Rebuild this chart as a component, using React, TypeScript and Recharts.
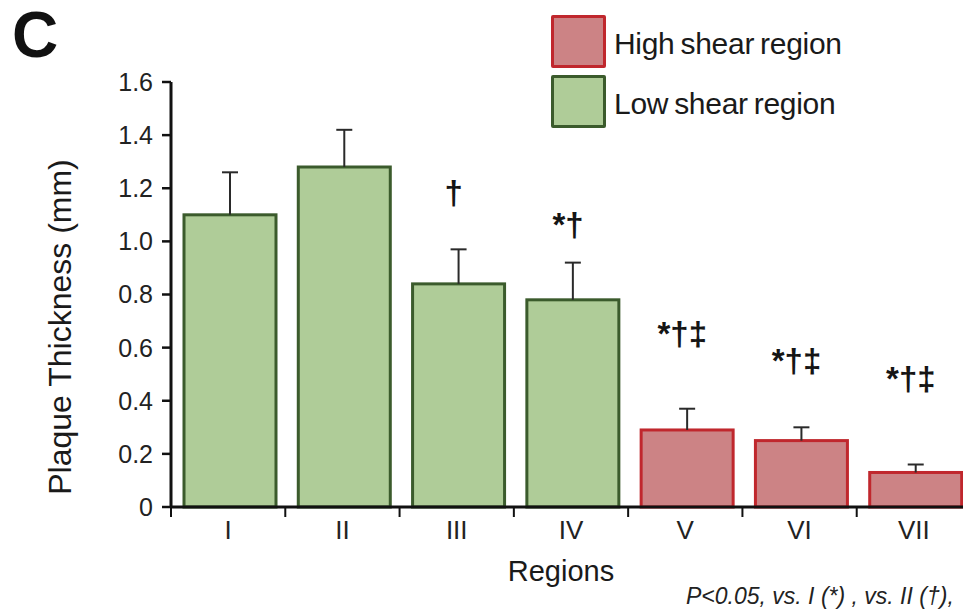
import React from 'react';
import { ComposedChart, Bar, Scatter, XAxis, YAxis, Legend } from 'recharts';

const regions = ['I', 'II', 'III', 'IV', 'V', 'VI', 'VII'];
const thickness = [1.10, 1.28, 0.84, 0.78, 0.29, 0.25, 0.13];
const errorUp = [0.16, 0.14, 0.13, 0.14, 0.08, 0.05, 0.03];
const shearZone = ['low', 'low', 'low', 'low', 'high', 'high', 'high'];
const sigMarks = ['', '', '†', '*†', '*†‡', '*†‡', '*†‡'];
const sigMarkY = [null, null, 1.18, 1.06, 0.65, 0.55, 0.48];
const yTicks = [0, 0.2, 0.4, 0.6, 0.8, 1.0, 1.2, 1.4, 1.6];
const legendItems = [
  { label: 'High shear region', zone: 'high' },
  { label: 'Low shear region', zone: 'low' },
];
const footnote = 'P<0.05, vs. I (*) , vs. II (†),';

const zoneStyle: Record<string, { fill: string; stroke: string }> = {
  low: { fill: '#afcc98', stroke: '#3b5b2c' },
  high: { fill: '#cc8385', stroke: '#c0272d' },
};

const data = regions.map((name, i) => ({
  name,
  value: thickness[i],
  err: errorUp[i],
  zone: shearZone[i],
  sig: sigMarks[i],
  sigY: sigMarkY[i],
}));

const CHART_W = 1000;
const CHART_H = 610;
const MARGIN = { top: 82, right: 29, bottom: 63, left: 111 };
const Y_AXIS_W = 60;
const PLOT_W = CHART_W - MARGIN.left - MARGIN.right - Y_AXIS_W;
const BAND = PLOT_W / regions.length;
const FONT = '"Liberation Sans", Arial, sans-serif';

const BarWithError = (props: any) => {
  const { x, y, width, height, payload } = props;
  if (!payload || !height) return null;
  const st = zoneStyle[payload.zone];
  const perUnit = height / payload.value;
  const errTop = y - payload.err * perUnit;
  const bx = x + 2;
  const cx = bx + width / 2;
  return (
    <g>
      <rect x={bx} y={y} width={width} height={height} fill={st.fill} stroke={st.stroke} strokeWidth={3} />
      <line x1={cx} y1={y} x2={cx} y2={errTop} stroke="#2a2a2a" strokeWidth={2} />
      <line x1={cx - 8} y1={errTop} x2={cx + 8} y2={errTop} stroke="#2a2a2a" strokeWidth={2} />
    </g>
  );
};

const SigMark = (props: any) => {
  const { cx, cy, payload } = props;
  if (!payload || !payload.sig || cx == null || cy == null || isNaN(cy)) return null;
  return (
    <text
      x={cx - 3}
      y={cy}
      dy="0.33em"
      textAnchor="middle"
      fontSize={33}
      fontWeight="bold"
      fill="#151515"
      fontFamily={FONT}
    >
      {payload.sig}
    </text>
  );
};

const XTick = (props: any) => {
  const { x, y, payload } = props;
  const left = x - BAND / 2;
  return (
    <g>
      <line x1={left} y1={y} x2={left} y2={y + 10} stroke="#111" strokeWidth={2} />
      <text x={x} y={y + 32} textAnchor="middle" fontSize={26} fill="#222" fontFamily={FONT}>
        {payload.value}
      </text>
    </g>
  );
};

const LegendContent = () => (
  <div style={{ fontFamily: FONT }}>
    {legendItems.map((item) => (
      <div key={item.label} style={{ display: 'flex', alignItems: 'center', height: 53, marginBottom: 7 }}>
        <div
          style={{
            width: 49,
            height: 47,
            background: zoneStyle[item.zone].fill,
            border: `3px solid ${zoneStyle[item.zone].stroke}`,
            borderRadius: 2,
            flexShrink: 0,
          }}
        />
        <span
          style={{
            marginLeft: 8,
            fontSize: 30,
            color: '#1a1a1a',
            lineHeight: 1,
            marginTop: 5,
            letterSpacing: -0.3,
            wordSpacing: -2,
            whiteSpace: 'nowrap',
          }}
        >
          {item.label}
        </span>
      </div>
    ))}
  </div>
);

export default function App() {
  return (
    <div
      style={{
        position: 'fixed',
        left: 0,
        top: 0,
        width: 963,
        height: 610,
        overflow: 'hidden',
        background: '#fff',
        fontFamily: FONT,
      }}
    >
      <ComposedChart width={CHART_W} height={CHART_H} data={data} margin={MARGIN}>
        <XAxis
          dataKey="name"
          height={40}
          tickSize={0}
          tickMargin={0}
          tickLine={false}
          axisLine={{ stroke: '#111', strokeWidth: 3 }}
          tick={<XTick />}
          interval={0}
        />
        <YAxis
          width={Y_AXIS_W}
          domain={[0, 1.6]}
          ticks={yTicks}
          interval={0}
          tickSize={9}
          tickMargin={9}
          tickFormatter={(v: number) => (v === 0 ? '0' : v.toFixed(1))}
          tick={{ fontSize: 25, fill: '#222', fontFamily: FONT }}
          axisLine={{ stroke: '#111', strokeWidth: 3 }}
          tickLine={{ stroke: '#111', strokeWidth: 2.5 }}
        />
        <Bar dataKey="value" barSize={92} isAnimationActive={false} shape={<BarWithError />} />
        <Scatter dataKey="sigY" isAnimationActive={false} shape={<SigMark />} />
        <Legend
          layout="vertical"
          align="center"
          verticalAlign="middle"
          content={<LegendContent />}
          wrapperStyle={{ left: 551, top: 15, width: 400, margin: 0, padding: 0 }}
        />
      </ComposedChart>
      <svg
        width={963}
        height={610}
        style={{ position: 'absolute', left: 0, top: 0, pointerEvents: 'none' }}
        fontFamily={FONT}
      >
        <text x={12} y={57} fontSize={64} fontWeight="bold" fill="#111">C</text>
        <text
          x={0}
          y={0}
          transform="translate(71 327) rotate(-90)"
          textAnchor="middle"
          fontSize={32}
          fill="#1a1a1a"
        >
          Plaque Thickness (mm)
        </text>
        <text x={561} y={581} textAnchor="middle" fontSize={29} fill="#1a1a1a">Regions</text>
        <text x={686} y={604} fontSize={23} fontStyle="italic" fill="#222">
          {footnote}
        </text>
      </svg>
    </div>
  );
}
